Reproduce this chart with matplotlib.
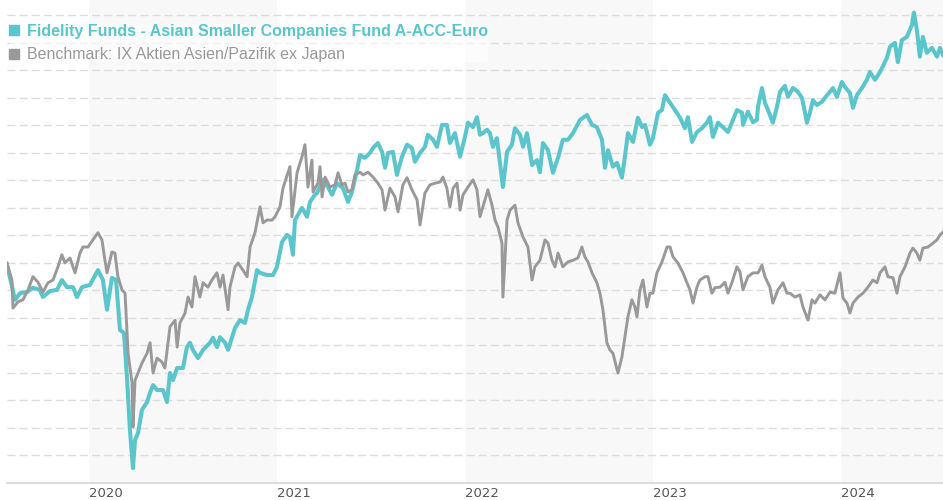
import matplotlib
matplotlib.use("Agg")
import matplotlib.pyplot as plt
from matplotlib.lines import Line2D
import numpy as np

# time in decimal years, values as performance index (start = 100)
fund_t = [2019.564, 2019.607, 2019.633, 2019.671, 2019.702, 2019.739, 2019.755, 2019.793, 2019.830, 2019.856,
          2019.883, 2019.915, 2019.936, 2019.963, 2020.005, 2020.048, 2020.074, 2020.096, 2020.122, 2020.144,
          2020.165, 2020.186, 2020.202, 2020.218, 2020.234, 2020.245, 2020.261, 2020.282, 2020.309, 2020.325,
          2020.341, 2020.362, 2020.394, 2020.415, 2020.431, 2020.447, 2020.469, 2020.500, 2020.521, 2020.537,
          2020.553, 2020.580, 2020.607, 2020.644, 2020.660, 2020.681, 2020.697, 2020.724, 2020.740, 2020.761,
          2020.777, 2020.803, 2020.830, 2020.846, 2020.867, 2020.894, 2020.910, 2020.947, 2020.979, 2021.000,
          2021.027, 2021.053, 2021.069, 2021.085, 2021.096, 2021.133, 2021.160, 2021.176, 2021.202, 2021.213,
          2021.245, 2021.271, 2021.293, 2021.319, 2021.351, 2021.378, 2021.399, 2021.426, 2021.442, 2021.468,
          2021.495, 2021.511, 2021.537, 2021.559, 2021.575, 2021.591, 2021.617, 2021.638, 2021.665, 2021.692,
          2021.718, 2021.734, 2021.761, 2021.787, 2021.803, 2021.830, 2021.851, 2021.878, 2021.904, 2021.920,
          2021.947, 2021.974, 2022.000, 2022.016, 2022.043, 2022.064, 2022.080, 2022.096, 2022.117, 2022.133,
          2022.149, 2022.170, 2022.202, 2022.224, 2022.250, 2022.266, 2022.293, 2022.309, 2022.330, 2022.357,
          2022.383, 2022.399, 2022.415, 2022.442, 2022.468, 2022.495, 2022.521, 2022.548, 2022.575, 2022.612,
          2022.649, 2022.676, 2022.702, 2022.729, 2022.745, 2022.761, 2022.787, 2022.809, 2022.835, 2022.851,
          2022.867, 2022.894, 2022.920, 2022.942, 2022.958, 2022.984, 2023.000, 2023.027, 2023.048, 2023.064,
          2023.091, 2023.117, 2023.144, 2023.170, 2023.186, 2023.208, 2023.234, 2023.261, 2023.287, 2023.303,
          2023.319, 2023.346, 2023.372, 2023.399, 2023.420, 2023.447, 2023.474, 2023.479, 2023.505, 2023.532,
          2023.553, 2023.559, 2023.580, 2023.596, 2023.612, 2023.638, 2023.660, 2023.676, 2023.702, 2023.718,
          2023.745, 2023.771, 2023.793, 2023.809, 2023.819, 2023.835, 2023.851, 2023.872, 2023.899, 2023.926,
          2023.942, 2023.958, 2023.979, 2024.005, 2024.021, 2024.048, 2024.064, 2024.085, 2024.112, 2024.138,
          2024.154, 2024.181, 2024.208, 2024.245, 2024.261, 2024.287, 2024.303, 2024.324, 2024.351, 2024.378,
          2024.388, 2024.404, 2024.420, 2024.436, 2024.457, 2024.484, 2024.511, 2024.527, 2024.543]
fund_v = [99.6, 93.3, 94.5, 94.7, 95.5, 95.1, 93.8, 94.9, 95.1, 96.9,
          95.6, 95.6, 93.8, 95.6, 96.0, 98.7, 96.9, 91.5, 97.3, 96.9,
          87.8, 87.3, 79.3, 69.6, 62.7, 67.8, 69.1, 73.3, 74.7, 76.4,
          77.8, 76.9, 76.9, 74.7, 80.0, 78.7, 80.9, 80.9, 84.7, 85.5,
          84.2, 82.7, 84.2, 85.5, 86.4, 84.7, 86.5, 85.5, 84.2, 86.5,
          88.2, 89.6, 89.1, 91.5, 93.8, 98.7, 98.2, 97.8, 97.8, 99.3,
          103.8, 105.1, 104.7, 101.5, 107.8, 110.0, 108.4, 111.1, 112.4, 112.7,
          115.1, 113.8, 112.4, 114.5, 113.6, 111.1, 112.9, 116.9, 119.6, 119.1,
          120.0, 120.9, 121.8, 120.2, 117.3, 120.0, 120.2, 116.0, 119.3, 121.5,
          120.9, 118.4, 120.0, 121.1, 123.3, 122.4, 121.1, 125.1, 125.1, 121.8,
          123.6, 119.3, 122.9, 125.5, 124.7, 126.5, 123.3, 123.6, 124.2, 123.6,
          121.1, 122.7, 113.8, 120.2, 121.5, 124.5, 123.3, 121.1, 123.6, 117.8,
          118.7, 116.5, 121.8, 120.5, 116.4, 119.1, 122.4, 122.4, 123.6, 126.0,
          126.9, 125.1, 124.7, 122.4, 117.3, 120.5, 117.5, 118.2, 115.5, 119.3,
          123.6, 122.0, 126.4, 124.7, 125.1, 121.5, 122.7, 127.3, 127.8, 130.5,
          129.1, 127.8, 126.4, 124.5, 126.5, 122.0, 123.8, 124.5, 125.5, 126.5,
          122.9, 125.5, 124.7, 123.8, 125.5, 127.8, 127.3, 125.1, 127.5, 125.6,
          126.0, 128.4, 131.8, 129.1, 127.8, 125.5, 128.4, 131.1, 132.2, 130.2,
          131.8, 131.1, 130.0, 127.3, 125.5, 127.3, 129.6, 128.7, 129.3, 130.5,
          131.1, 131.8, 130.2, 132.9, 132.0, 130.9, 128.2, 130.5, 131.8, 133.3,
          134.7, 133.3, 134.7, 137.3, 139.3, 140.0, 136.5, 140.5, 141.1, 143.3,
          145.5, 142.4, 137.5, 141.1, 138.2, 139.1, 137.5, 139.1, 137.8]

bench_t = [2019.564, 2019.590, 2019.596, 2019.622, 2019.649, 2019.676, 2019.702, 2019.729, 2019.755, 2019.782,
           2019.809, 2019.835, 2019.856, 2019.872, 2019.899, 2019.926, 2019.952, 2019.968, 2019.995, 2020.021,
           2020.048, 2020.069, 2020.085, 2020.096, 2020.122, 2020.138, 2020.154, 2020.176, 2020.192, 2020.208,
           2020.229, 2020.234, 2020.245, 2020.261, 2020.282, 2020.309, 2020.325, 2020.341, 2020.362, 2020.388,
           2020.404, 2020.431, 2020.458, 2020.469, 2020.484, 2020.511, 2020.527, 2020.548, 2020.564, 2020.590,
           2020.607, 2020.633, 2020.654, 2020.681, 2020.697, 2020.713, 2020.740, 2020.750, 2020.777, 2020.793,
           2020.819, 2020.841, 2020.857, 2020.883, 2020.910, 2020.926, 2020.947, 2020.974, 2020.990, 2021.016,
           2021.032, 2021.059, 2021.069, 2021.080, 2021.107, 2021.133, 2021.149, 2021.165, 2021.186, 2021.192,
           2021.218, 2021.229, 2021.240, 2021.256, 2021.282, 2021.309, 2021.325, 2021.346, 2021.362, 2021.378,
           2021.399, 2021.415, 2021.442, 2021.458, 2021.484, 2021.511, 2021.537, 2021.559, 2021.575, 2021.601,
           2021.628, 2021.644, 2021.670, 2021.692, 2021.718, 2021.745, 2021.761, 2021.787, 2021.814, 2021.841,
           2021.867, 2021.883, 2021.904, 2021.920, 2021.937, 2021.958, 2021.974, 2021.990, 2022.016, 2022.043,
           2022.064, 2022.080, 2022.107, 2022.122, 2022.144, 2022.160, 2022.176, 2022.197, 2022.202, 2022.224,
           2022.240, 2022.266, 2022.282, 2022.309, 2022.335, 2022.357, 2022.372, 2022.399, 2022.426, 2022.442,
           2022.463, 2022.479, 2022.495, 2022.521, 2022.548, 2022.575, 2022.601, 2022.622, 2022.638, 2022.654,
           2022.676, 2022.702, 2022.718, 2022.734, 2022.755, 2022.771, 2022.787, 2022.814, 2022.835, 2022.851,
           2022.867, 2022.888, 2022.904, 2022.915, 2022.931, 2022.947, 2022.968, 2022.984, 2023.000, 2023.021,
           2023.048, 2023.075, 2023.091, 2023.107, 2023.133, 2023.160, 2023.181, 2023.197, 2023.213, 2023.234,
           2023.250, 2023.277, 2023.293, 2023.314, 2023.330, 2023.357, 2023.383, 2023.399, 2023.420, 2023.447,
           2023.463, 2023.479, 2023.505, 2023.532, 2023.559, 2023.580, 2023.596, 2023.622, 2023.638, 2023.665,
           2023.692, 2023.713, 2023.729, 2023.755, 2023.782, 2023.798, 2023.825, 2023.846, 2023.862, 2023.888,
           2023.915, 2023.942, 2023.968, 2023.995, 2024.011, 2024.032, 2024.048, 2024.064, 2024.091, 2024.117,
           2024.144, 2024.170, 2024.192, 2024.208, 2024.234, 2024.250, 2024.277, 2024.298, 2024.314, 2024.341,
           2024.367, 2024.383, 2024.404, 2024.420, 2024.436, 2024.463, 2024.490, 2024.511, 2024.527, 2024.543]
bench_v = [100.0, 96.9, 91.8, 92.9, 93.3, 95.1, 97.5, 96.5, 94.7, 96.4,
           96.9, 99.3, 101.5, 100.0, 100.9, 98.2, 101.8, 102.9, 102.9, 104.2,
           105.5, 104.2, 100.5, 98.2, 102.0, 101.8, 97.5, 95.1, 94.5, 83.6,
           78.2, 70.2, 78.7, 80.0, 81.8, 83.6, 85.5, 80.0, 82.7, 82.0,
           80.9, 88.4, 89.6, 84.7, 89.1, 90.9, 93.8, 92.0, 97.5, 93.8,
           96.4, 95.6, 96.9, 98.2, 95.6, 97.8, 91.5, 95.6, 99.3, 100.0,
           98.7, 97.5, 102.9, 105.5, 110.2, 107.3, 107.8, 107.8, 108.4, 110.2,
           113.6, 116.4, 117.5, 108.4, 116.4, 119.3, 121.5, 113.8, 118.7, 112.9,
           114.5, 117.5, 112.0, 115.6, 113.8, 114.2, 116.4, 114.2, 114.5, 112.9,
           113.3, 116.0, 116.5, 116.0, 116.5, 115.6, 114.5, 113.3, 109.6, 113.6,
           112.0, 109.3, 114.2, 115.5, 113.3, 111.5, 106.9, 112.7, 114.2, 114.5,
           114.7, 115.6, 113.6, 110.2, 113.6, 114.5, 109.6, 112.4, 113.8, 115.1,
           113.3, 108.4, 111.5, 113.3, 110.5, 107.8, 106.5, 103.6, 93.8, 107.8,
           109.6, 110.5, 107.3, 104.7, 102.9, 96.9, 99.3, 100.5, 104.2, 103.6,
           100.5, 99.3, 101.8, 99.3, 100.2, 100.5, 100.9, 102.9, 101.1, 100.2,
           98.2, 96.4, 94.5, 91.5, 85.5, 84.2, 83.6, 80.0, 82.9, 86.5,
           90.2, 93.3, 92.0, 90.2, 95.1, 96.9, 92.0, 94.5, 94.5, 98.2,
           100.2, 102.9, 102.9, 101.1, 100.0, 98.2, 96.4, 95.1, 92.7, 95.6,
           96.9, 97.5, 97.5, 94.5, 95.5, 95.6, 96.5, 94.5, 96.4, 99.3,
           98.4, 95.1, 97.5, 98.2, 98.2, 99.6, 97.5, 95.6, 92.7, 95.1,
           96.4, 94.5, 94.5, 93.8, 94.2, 92.0, 89.6, 93.3, 92.7, 94.2,
           93.3, 94.7, 94.5, 98.2, 93.6, 92.7, 90.9, 92.7, 93.8, 94.5,
           95.6, 96.9, 96.4, 98.2, 99.3, 97.5, 97.3, 94.5, 97.5, 99.3,
           101.8, 102.7, 101.8, 100.5, 102.7, 102.9, 103.6, 104.2, 105.1, 105.6]

years = [2020, 2021, 2022, 2023, 2024]
shaded_years = [2020, 2022, 2024]
fund_name = "Fidelity Funds - Asian Smaller Companies Fund A-ACC-Euro"
bench_name = "Benchmark: IX Aktien Asien/Pazifik ex Japan"

teal = "#5bc5cc"
grey = "#999999"

fig = plt.figure(figsize=(9.43, 5.0), dpi=100)
ax = fig.add_axes([7 / 943, 17 / 500, 936 / 943, 483 / 500])

x0, x1 = 2019.564, 2024.543
ax.set_xlim(x0, x1)
ax.set_ylim(60, 147.8)

for y in shaded_years:
    ax.axvspan(y, min(y + 1, x1), color="#f8f8f8", lw=0, zorder=0)

for g in np.arange(65, 146, 5):
    ax.axhline(g, color="#dddddd", lw=1.0, ls=(0, (5.8, 2.9)), zorder=1)

ax.plot(fund_t, fund_v, color=teal, lw=2.9, zorder=3)
ax.plot(bench_t, bench_v, color=grey, lw=2.1, zorder=4)

for s in ["top", "right", "left"]:
    ax.spines[s].set_visible(False)
ax.spines["bottom"].set_color("#dddddd")
ax.spines["bottom"].set_linewidth(1.5)
ax.set_yticks([])
ax.set_xticks(years)
ax.set_xticklabels([str(y) for y in years], fontsize=9.5, color="#555555",
                   family="DejaVu Sans", ha="left")
ax.tick_params(axis="x", length=0, pad=3)

handles = [Line2D([], [], marker="s", ls="", color=teal, markersize=7),
           Line2D([], [], marker="s", ls="", color=grey, markersize=7)]
leg = ax.legend(handles, [fund_name, bench_name], loc="upper left",
                bbox_to_anchor=(0.003, 0.951), frameon=True, facecolor="white",
                edgecolor="none", framealpha=0.6, borderpad=0.0, borderaxespad=0,
                handlelength=0.55, handletextpad=0.5, labelspacing=0.55,
                prop={"family": "Liberation Sans", "size": 11.5})
t0, t1 = leg.get_texts()
t0.set_color(teal)
t0.set_fontweight("bold")
t1.set_color(grey)

fig.savefig("out.png", dpi=100)
